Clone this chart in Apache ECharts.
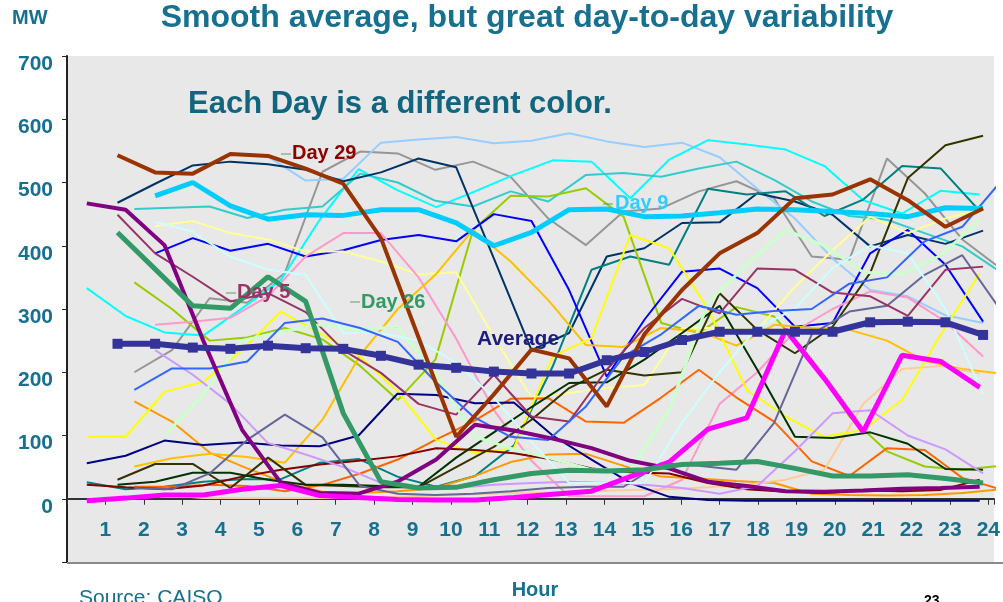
<!DOCTYPE html>
<html>
<head>
<meta charset="utf-8">
<title>Smooth average, but great day-to-day variability</title>
<script src="https://cdn.jsdelivr.net/npm/echarts@6.0.0/dist/echarts.min.js"></script>
<style>
  html, body { margin: 0; padding: 0; background: #fff; }
  #chart { width: 1003px; height: 602px; }
</style>
</head>
<body>
<div id="chart"></div>
<script>
// hours on the x axis, MW on the y axis
const hours = [1,2,3,4,5,6,7,8,9,10,11,12,13,14,15,16,17,18,19,20,21,22,23,24];
const yTicks = [0,100,200,300,400,500,600,700];

// the highlighted days
const average = [245,245,239,237,242,238,237,226,212,207,201,198,198,219,232,251,264,264,264,264,279,280,279,259];
const day29 = [543,516,514,545,542,522,498,412,255,98,165,236,222,146,260,330,388,420,475,481,505,472,430,459];
const day9 = [null,479,500,463,442,449,448,457,457,436,400,421,457,458,446,447,452,458,457,454,451,446,460,459];
const day26 = [421,363,305,301,351,312,135,27,17,18,30,40,45,44,46,54,56,59,48,36,36,38,32,25];
const day5 = [467,457,401,250,109,25,9,8,27,62,117,108,95,80,60,48,27,20,12,11,13,16,17,19];
const magenta = [-3,1,6,6,15,21,5,2,-1,-2,-2,2,7,12,35,58,110,128,267,190,106,227,217,176];

// the other days, one colour each
const cyan = [333,289,263,258,301,346,441,521,488,461,486,512,535,533,475,536,567,560,552,526,472,451,487,481];
const lightBlue = [null,null,null,null,541,503,506,563,568,572,562,566,578,565,556,563,540,490,443,380,330,320,290,278];
const gray = [200,235,317,310,357,517,549,546,520,533,509,443,401,454,459,486,502,475,383,378,538,483,410,365];
const navyDark = [468,498,527,533,529,520,502,516,538,524,380,235,262,383,396,436,437,483,470,449,399,417,403,424];
const teal = [26,15,19,27,31,31,57,63,35,19,36,84,209,362,383,370,490,481,486,447,473,526,522,455];
const turquoise = [458,460,462,444,457,462,514,500,471,462,486,470,512,515,509,522,533,504,470,447,441,420,399,359];
const yellowGreen = [342,300,250,255,270,252,210,156,220,425,479,478,491,446,278,262,303,288,220,130,75,51,46,52];
const blue = [null,388,412,392,403,383,393,409,417,407,450,439,330,193,283,359,364,333,272,278,388,425,370,280];
const lightYellow = [null,431,439,420,410,391,391,375,355,358,256,160,167,175,180,270,270,267,335,393,446,420,443,459];
const pink = [null,275,280,286,320,383,420,420,350,253,140,60,4,4,4,30,150,200,265,300,328,318,280,225];
const orange = [154,122,73,48,25,11,9,12,17,35,58,70,71,52,35,32,28,25,8,6,5,6,9,15];
const orangeRed = [19,19,22,20,12,22,40,62,93,122,158,159,122,120,160,204,160,122,59,36,80,77,33,15];
const gold = [51,64,71,66,57,125,227,300,354,425,375,314,243,240,270,265,242,275,270,267,250,218,205,198];
const peach = [null,null,6,1,1,1,1,1,3,5,7,9,10,12,14,15,18,22,30,46,150,205,210,198];
const yellow = [98,98,169,185,235,296,262,227,170,93,72,80,225,254,417,396,300,172,130,98,109,156,260,356];
const navy = [56,68,92,85,89,84,83,100,166,164,151,152,100,62,25,3,-2,-3,-3,-3,-3,-3,-3,-3];
const maroon = [22,18,15,21,35,46,54,60,67,80,77,72,62,48,42,40,25,15,11,9,13,12,14,30];
const olive = [30,55,55,17,65,22,20,18,18,50,82,125,175,204,195,200,325,267,230,272,357,507,559,574];
const darkGreen = [22,27,41,41,30,22,22,20,19,65,105,145,183,184,220,262,305,204,98,96,105,87,47,46];
const lavender = [null,235,196,150,88,70,50,25,18,17,22,25,27,25,22,17,8,20,75,135,140,100,78,40];
const slate = [17,15,40,93,133,97,20,8,6,8,12,17,19,19,56,52,46,120,260,296,305,354,385,300];
const plum = [449,388,351,312,325,295,235,199,150,133,196,130,122,204,270,316,293,364,362,326,320,289,362,367];
const lightGreen = [null,null,100,165,250,264,275,267,272,195,98,78,63,46,46,140,310,370,425,400,358,355,385,440];
const lightCyan = [null,438,422,383,362,354,262,262,250,215,160,90,25,25,25,120,200,270,300,365,400,388,300,165];
const mediumBlue = [172,206,206,217,278,285,270,248,185,130,98,93,146,225,260,305,291,297,300,340,350,407,430,500];

const teal1 = '#17708f';
const font = 'Liberation Sans, Arial, sans-serif';

// the days were pasted in from three slightly shifted copies of the hour axis
// xAxis 1 = first copy, 2 = second copy (average), 3 = third copy
const days = [
  {name: 'gray', data: gray, axis: 3, color: '#969696', width: 2},
  {name: 'lightBlue', data: lightBlue, axis: 2, color: '#99ccff', width: 2},
  {name: 'cyan', data: cyan, axis: 1, color: '#00ffff', width: 2},
  {name: 'turquoise', data: turquoise, axis: 3, color: '#33cccc', width: 2},
  {name: 'navyDark', data: navyDark, axis: 2, color: '#003366', width: 2},
  {name: 'teal', data: teal, axis: 1, color: '#008080', width: 2},
  {name: 'yellowGreen', data: yellowGreen, axis: 3, color: '#99cc00', width: 2},
  {name: 'blue', data: blue, axis: 2, color: '#0000ff', width: 2},
  {name: 'lightYellow', data: lightYellow, axis: 2, color: '#ffff99', width: 2},
  {name: 'pink', data: pink, axis: 2, color: '#ff99cc', width: 2},
  {name: 'orange', data: orange, axis: 3, color: '#ff9900', width: 2},
  {name: 'orangeRed', data: orangeRed, axis: 3, color: '#ff6600', width: 2},
  {name: 'gold', data: gold, axis: 3, color: '#ffc000', width: 2},
  {name: 'peach', data: peach, axis: 1, color: '#ffcc99', width: 2},
  {name: 'yellow', data: yellow, axis: 1, color: '#ffff00', width: 2},
  {name: 'navy', data: navy, axis: 1, color: '#000080', width: 2},
  {name: 'maroon', data: maroon, axis: 1, color: '#800000', width: 2},
  {name: 'olive', data: olive, axis: 2, color: '#333300', width: 2},
  {name: 'darkGreen', data: darkGreen, axis: 2, color: '#003300', width: 2},
  {name: 'lavender', data: lavender, axis: 2, color: '#cc99ff', width: 2},
  {name: 'slate', data: slate, axis: 3, color: '#666699', width: 2},
  {name: 'plum', data: plum, axis: 2, color: '#993366', width: 2},
  {name: 'lightGreen', data: lightGreen, axis: 1, color: '#ccffcc', width: 3},
  {name: 'lightCyan', data: lightCyan, axis: 2, color: '#ccffff', width: 2},
  {name: 'mediumBlue', data: mediumBlue, axis: 3, color: '#3366ff', width: 2},
  {name: 'Day 5', data: day5, axis: 1, color: '#800080', width: 4},
  {name: 'magenta', data: magenta, axis: 1, color: '#ff00ff', width: 5},
  {name: 'Day 26', data: day26, axis: 2, color: '#339966', width: 5},
  {name: 'Day 9', data: day9, axis: 2, color: '#00ccff', width: 5},
  {name: 'Day 29', data: day29, axis: 2, color: '#993300', width: 4}
];

function pairs(vals) {
  const out = [];
  hours.forEach(function (h, i) {
    if (vals[i] != null) out.push([h, vals[i]]);
  });
  return out;
}

const series = days.map(function (d) {
  return {
    name: d.name,
    type: 'line',
    xAxisIndex: d.axis,
    data: pairs(d.data),
    showSymbol: false,
    lineStyle: {color: d.color, width: d.width},
    itemStyle: {color: d.color},
    silent: true
  };
});
series.push({
  name: 'Average',
  type: 'line',
  xAxisIndex: 2,
  data: pairs(average),
  symbol: 'rect',
  symbolSize: 10,
  lineStyle: {color: '#333399', width: 6},
  itemStyle: {color: '#333399'},
  z: 5
});

function hidden(min, max) {
  return {type: 'value', min: min, max: max, show: false, position: 'bottom'};
}

function label(text, x, y, color, size) {
  return {
    type: 'text', x: x, y: y, z: 100,
    style: {text: text, fill: color, font: 'bold ' + size + 'px ' + font, verticalAlign: 'middle'}
  };
}
function dash(x, y, color) {
  return {type: 'line', z: 100, shape: {x1: x, y1: y, x2: x + 10, y2: y}, style: {stroke: color, lineWidth: 1}};
}

const chart = echarts.init(document.getElementById('chart'));
chart.setOption({
  animation: false,
  grid: {left: 67, top: 56, right: 0, bottom: 40, show: true, backgroundColor: '#e8e8e8', borderWidth: 0},
  xAxis: [
    {
      // hour axis drawn along the 0 MW line
      type: 'value', min: 0, max: 24.148, interval: 1, position: 'bottom', offset: -63.25,
      axisLine: {onZero: false, lineStyle: {color: '#333', width: 2}},
      axisTick: {length: 6, lineStyle: {color: '#333', width: 1}},
      splitLine: {show: false},
      axisLabel: {
        margin: 21, color: teal1, fontWeight: 'bold', fontSize: 21, fontFamily: font,
        formatter: function (v) { return hours.indexOf(v) >= 0 ? String(v) : ''; }
      }
    },
    hidden(0.49, 24.368),
    hidden(-0.342, 24.29),
    hidden(-0.789, 23.843)
  ],
  yAxis: {
    type: 'value', min: -100, max: 700, interval: 100,
    axisLine: {show: true, onZero: false, lineStyle: {color: '#222', width: 2}},
    axisTick: {show: true, length: 5, lineStyle: {color: '#222'}},
    splitLine: {show: false},
    axisLabel: {
      margin: 14, color: teal1, fontWeight: 'bold', fontSize: 21, fontFamily: font,
      verticalAlign: 'top', lineHeight: 16,
      formatter: function (v) { return yTicks.indexOf(v) >= 0 ? String(v) : ''; }
    }
  },
  series: series,
  graphic: [
    {type: 'line', z: 50, shape: {x1: 67, y1: 563, x2: 1003, y2: 563}, style: {stroke: '#8a8a8a', lineWidth: 2}},
    {type: 'text', x: 527, y: 18, style: {text: 'Smooth average, but great day-to-day variability', fill: teal1, font: 'bold 32px ' + font, align: 'center', verticalAlign: 'middle'}},
    {type: 'text', x: 12, y: 18, style: {text: 'MW', fill: teal1, font: 'bold 20px ' + font, verticalAlign: 'middle'}},
    {type: 'text', x: 188, y: 104, z: 100, style: {text: 'Each Day is a different color.', fill: '#12657f', font: 'bold 31px ' + font, verticalAlign: 'middle'}},
    dash(281, 154, '#669966'), label('Day 29', 292, 153, '#8b0000', 20),
    dash(226, 293, '#669966'), label('Day 5', 237, 292, '#993366', 20),
    dash(350, 302, '#669966'), label('Day 26', 361, 302, '#339966', 20),
    dash(603, 204, '#669966'), label('Day 9', 615, 203, '#33ccff', 20),
    label('Average', 477, 339, '#1c1c7c', 21),
    {type: 'text', x: 535, y: 590, style: {text: 'Hour', fill: teal1, font: 'bold 20px ' + font, align: 'center', verticalAlign: 'middle'}},
    {type: 'text', x: 79, y: 588, style: {text: 'Source: CAISO', fill: teal1, font: '21px ' + font, verticalAlign: 'top'}},
    {type: 'text', x: 924, y: 594, style: {text: '23', fill: '#000', font: 'bold 14px ' + font, verticalAlign: 'top'}}
  ]
});
</script>
</body>
</html>
